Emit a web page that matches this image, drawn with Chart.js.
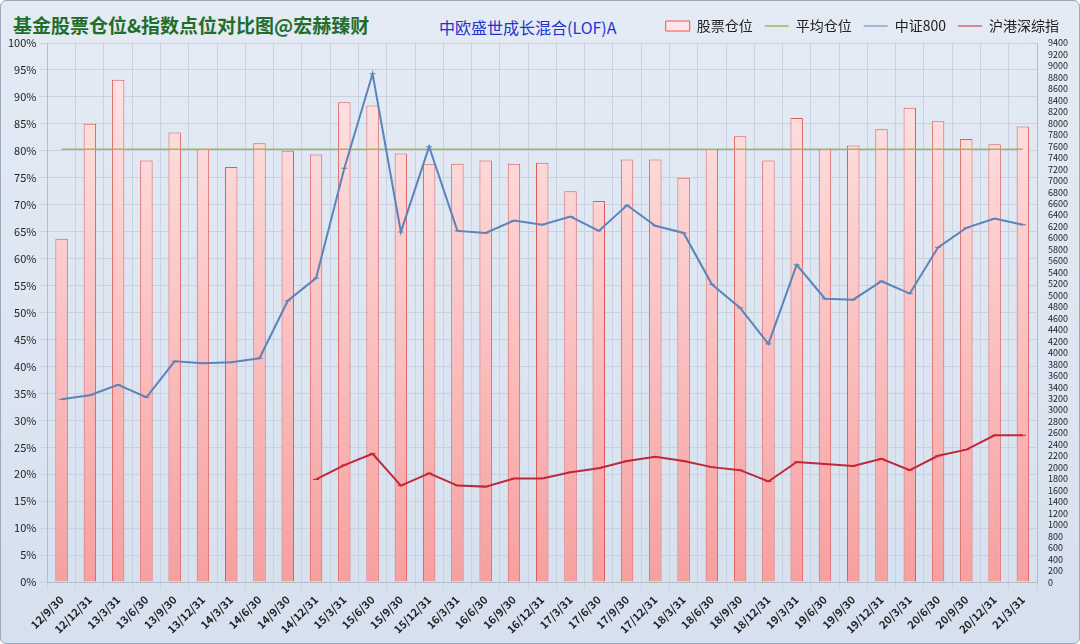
<!DOCTYPE html>
<html><head><meta charset="utf-8">
<script src="https://cdn.jsdelivr.net/npm/chart.js@4/dist/chart.umd.min.js"></script>
<style>
html,body{margin:0;padding:0;width:1080px;height:644px;overflow:hidden;}
#wrap{position:relative;width:1078px;height:642px;border:1px solid #9aaabb;border-radius:6px;background:linear-gradient(#e4ebf5,#d6e0ee);}
#t1{position:absolute;left:12px;top:10px;font:bold 19px "Noto Sans CJK SC";color:#1f6e2a;}
#t2{position:absolute;left:438px;top:14px;font:16px "Noto Sans CJK SC";color:#2233cc;}
canvas{position:absolute;left:0;top:0;}
</style></head><body>
<div id="wrap"><div id="t1">基金股票仓位&amp;指数点位对比图@宏赫臻财</div><div id="t2">中欧盛世成长混合(LOF)A</div>
<canvas id="c" width="1078" height="642"></canvas></div>
<script>
const categories=["12/9/30","12/12/31","13/3/31","13/6/30","13/9/30","13/12/31","14/3/31","14/6/30","14/9/30","14/12/31","15/3/31","15/6/30","15/9/30","15/12/31","16/3/31","16/6/30","16/9/30","16/12/31","17/3/31","17/6/30","17/9/30","17/12/31","18/3/31","18/6/30","18/9/30","18/12/31","19/3/31","19/6/30","19/9/30","19/12/31","20/3/31","20/6/30","20/9/30","20/12/31","21/3/31"];
const stockPosition=[63.7,85,93.2,78.2,83.4,80.3,77,81.4,80,79.3,89,88.4,79.5,77.5,77.6,78.2,77.6,77.8,72.5,70.7,78.4,78.4,75,80.3,82.7,78.2,86.1,80.3,81,84,88,85.5,82.2,81.2,84.5];
const avgPosition=80.3;
const csi800=[3187,3259,3438,3223,3850,3814,3832,3903,4906,5300,7216,8863,6106,7592,6124,6088,6303,6231,6374,6124,6571,6213,6088,5192,4781,4154,5533,4942,4924,5246,5031,5837,6177,6338,6231];
const hsIndex=[null,null,null,null,null,null,null,null,null,1790,2041,2238,1683,1898,1683,1665,1808,1808,1916,1987,2113,2184,2113,2005,1952,1755,2095,2059,2023,2149,1952,2202,2310,2560,2560];
const ctx=document.getElementById('c').getContext('2d');
const grad=ctx.createLinearGradient(0,52,0,577);
grad.addColorStop(0,'#ffe6e6');grad.addColorStop(1,'#f7a0a0');
const font={family:'"Noto Sans CJK SC"',size:11};
new Chart(ctx,{data:{labels:categories,datasets:[
{type:'bar',label:'股票仓位',data:stockPosition,yAxisID:'y',backgroundColor:grad,borderColor:'#e05a5a',borderWidth:1,categoryPercentage:0.8,barPercentage:0.55,order:3,pointStyle:'rect'},
{type:'line',label:'平均仓位',data:categories.map(()=>avgPosition),yAxisID:'y',borderColor:'#9bbb59',borderWidth:1.5,pointRadius:0,order:2,pointStyle:'line'},
{type:'line',label:'中证800',data:csi800,yAxisID:'y1',borderColor:'#5b84b8',backgroundColor:'#dde8f8',borderWidth:2,pointRadius:3,pointBorderWidth:1,pointBorderColor:'#5b84b8',order:1,pointStyle:'line'},
{type:'line',label:'沪港深综指',data:hsIndex,yAxisID:'y1',borderColor:'#c0283a',backgroundColor:'#f4c8c8',borderWidth:2,pointRadius:3,pointBorderWidth:1,pointBorderColor:'#c0283a',order:0,pointStyle:'line'}
]},options:{responsive:false,animation:false,
layout:{padding:{left:4,right:8,top:6,bottom:4}},
plugins:{legend:{position:'top',align:'end',labels:{sort:(a,b)=>a.datasetIndex-b.datasetIndex,font:{family:'"Noto Sans CJK SC"',size:14},color:'#222',usePointStyle:true,pointStyleWidth:24,boxHeight:10,padding:12},padding:{bottom:12}},tooltip:{enabled:false}},
scales:{
x:{grid:{color:'#c8d2e0'},ticks:{font:{...font,weight:'bold'},color:'#222',maxRotation:45,minRotation:45,autoSkip:false}},
y:{position:'left',min:0,max:100,ticks:{stepSize:5,callback:v=>v+'%',font,color:'#222'},grid:{color:'#c8d2e0'}},
y1:{position:'right',min:0,max:9400,ticks:{stepSize:200,autoSkip:false,callback:v=>String(v),font:{...font,size:9},color:'#222'},grid:{display:false}}
}}});
</script></body></html>
